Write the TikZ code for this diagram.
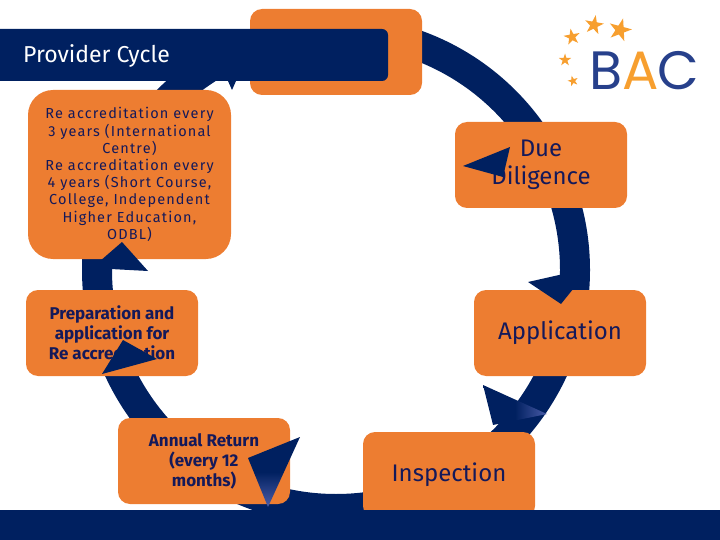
\documentclass[tikz,border=0pt]{standalone}
\usepackage{fontspec}
\setmainfont{Fira Sans}
\newfontfamily\logofont{Poppins}
\usetikzlibrary{shapes.geometric}
\definecolor{navy}{HTML}{002060}
\definecolor{inknavy}{HTML}{14195A}
\definecolor{boxorange}{HTML}{ED7D31}
\definecolor{tipblue}{HTML}{4A5CA8}
\definecolor{logoblue}{HTML}{27408B}
\definecolor{logogold}{HTML}{F79F2F}
\tikzset{
    stage/.style={fill=boxorange, rounded corners=12pt, minimum width=172pt, minimum height=86pt,
        align=center, text=inknavy, inner sep=0pt, font=\fontsize{24}{28}\selectfont},
    smallstage/.style={stage, font=\fontsize{17}{20}\bfseries\selectfont},
    logostar/.style={star, star points=5, star point ratio=2.6, fill=logogold, inner sep=0pt},
    logoletter/.style={inner sep=0pt, font=\fontsize{54}{54}\logofont\selectfont},
}
\begin{document}
\begin{tikzpicture}[x=1pt, y=-1pt]
\useasboundingbox (0,0) rectangle (720,540);

% ring
\draw[navy, line width=30pt] (336,270) circle (239pt);

% stages
\node[stage] (top) at (336,52) {};
\node[stage] (due) at (541,165) {Due\\Diligence};
\node[stage] (application) at (560,333) {Application};
\node[stage, minimum height=86pt] (inspection) at (449,475) {Inspection};
\node[smallstage] (annual) at (204,461) {Annual Return\\(every 12\\months)};
\node[smallstage] (preparation) at (112,333) {Preparation and\\application for\\Re accreditation};
\node[stage, rounded corners=25pt, minimum width=203pt, minimum height=169pt,
    font=\fontsize{14.5}{17.2}\selectfont\addfontfeature{LetterSpace=8}] (renewal) at (129.5,174.5)
    {Re accreditation every\\3 years (International\\Centre)\\Re accreditation every\\4 years (Short Course,\\College, Independent\\Higher Education,\\ODBL)};

% arrow heads
\fill[navy] (463,166)--(510,147)--(503,177)--cycle;
\fill[navy] (528,282)--(561,304)--(590,268)--cycle;
\fill[navy] (122,242)--(148,271)--(92,268)--cycle;
\fill[navy] (123,340)--(157,359)--(102,374)--cycle;
\fill[navy] (228,81)--(236,81)--(232,90)--cycle;
\shade[left color=navy, right color=tipblue, middle color=navy] (483,385)--(547,414)--(493,425)--cycle;
\shade[top color=navy, bottom color=tipblue, middle color=navy] (300,437)--(248,458)--(268,507)--cycle;

% banner and bottom band
\fill[navy, rounded corners=6pt] (-10,29) rectangle (388,81);
\fill[navy] (0,510) rectangle (720,540);
\node[text=white, anchor=west, inner sep=0pt, font=\fontsize{23}{26}\selectfont] (title) at (23,56) {Provider Cycle};

% logo
\foreach \x/\y/\r/\a/\n in {620/30/24/-15/a, 594/25/20/-10/b, 572/37/17/10/c, 565/60/13/0/d, 573/81/11/15/e}
{
    \node[logostar, minimum size=\r pt, rotate=\a] (star\n) at (\x,\y) {};
}
\node[logoletter, text=logoblue] (logob) at (606,71) {B};
\node[logoletter, text=logogold] (logoa) at (641,71) {A};
\node[logoletter, text=logoblue] (logoc) at (678,71) {C};
\end{tikzpicture}
\end{document}
